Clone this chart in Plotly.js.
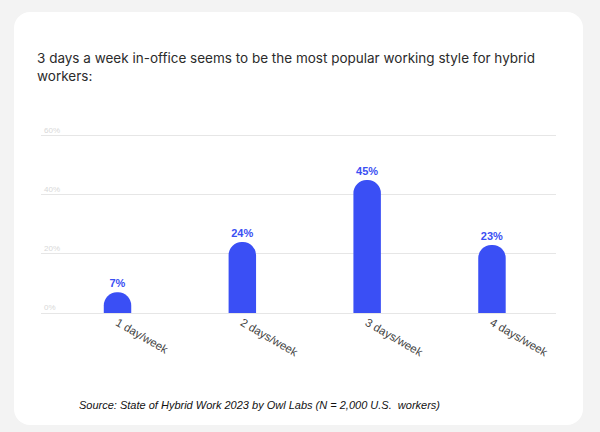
<!DOCTYPE html>
<html>
<head>
<meta charset="utf-8">
<script src="https://cdn.plot.ly/plotly-3.0.1.min.js"></script>
<style>
  html, body { margin: 0; padding: 0; width: 600px; height: 432px; background: #f3f3f3; overflow: hidden; }
  #card { position: absolute; left: 14px; top: 12px; width: 569px; height: 413px; background: #ffffff; border-radius: 16px; }
  #chart { position: absolute; left: 0; top: 0; width: 600px; height: 432px; }
</style>
</head>
<body>
<div id="card"></div>
<div id="chart"></div>
<script>
const categories = ["1 day/week", "2 days/week", "3 days/week", "4 days/week"];
const values = [7, 24, 45, 23];
const valueLabels = ["7%", "24%", "45%", "23%"];
const yTickVals = [0, 20, 40, 60];
const yTickText = ["0%", "20%", "40%", "60%"];
const titleText = "3 days a week in-office seems to be the most popular working style for hybrid<br>workers:";
const sourceText = "Source: State of Hybrid Work 2023 by Owl Labs (N = 2,000 U.S.  workers)";

const trace = {
  type: "bar",
  x: categories,
  y: values,
  text: valueLabels,
  textposition: "outside",
  cliponaxis: false,
  textfont: { family: "Arial, Liberation Sans, sans-serif", size: 11, color: "#3a4ff3", weight: "bold" },
  width: 0.22,
  marker: { color: "#3a4ff5", cornerradius: "50%" },
  hoverinfo: "none"
};

const layout = {
  width: 600,
  height: 432,
  paper_bgcolor: "rgba(0,0,0,0)",
  plot_bgcolor: "rgba(0,0,0,0)",
  margin: { l: 41, r: 44, t: 121, b: 119 },
  showlegend: false,
  title: {
    text: titleText,
    font: { family: "Inter, Roboto, sans-serif", size: 13.5, color: "#2b2b2b" },
    xref: "container", yref: "container",
    x: 37 / 600, xanchor: "left",
    y: 1 - 63 / 432, yanchor: "top"
  },
  xaxis: {
    type: "category",
    range: [-0.613, 3.513],
    tickangle: 30,
    tickfont: { family: "Arial, Liberation Sans, sans-serif", size: 11.5, color: "#444444" },
    showgrid: false,
    showline: false,
    zeroline: false,
    ticks: ""
  },
  yaxis: {
    range: [0, 65],
    tickvals: yTickVals,
    ticktext: yTickText,
    ticklabelposition: "inside top",
    tickfont: { family: "Arial, Liberation Sans, sans-serif", size: 8, color: "#d8d8d8" },
    showgrid: true,
    gridcolor: "#e6e6e6",
    gridwidth: 1,
    zeroline: true,
    zerolinecolor: "#e6e6e6",
    zerolinewidth: 1,
    showline: false,
    ticks: ""
  },
  annotations: [{
    text: sourceText,
    xref: "paper", yref: "paper",
    x: (77 - 41) / 515, xanchor: "left",
    y: -(405 - 313) / 192, yanchor: "middle",
    showarrow: false,
    font: { family: "Arial, Liberation Sans, sans-serif", size: 11, color: "#111111", style: "italic" }
  }]
};

Plotly.newPlot("chart", [trace], layout, { displayModeBar: false, staticPlot: true });
</script>
</body>
</html>
